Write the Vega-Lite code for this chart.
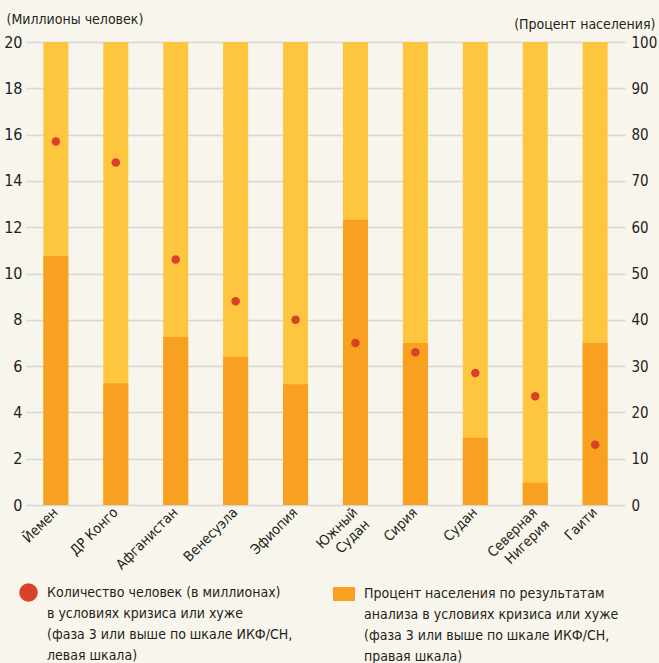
{
  "$schema": "https://vega.github.io/schema/vega-lite/v6.json",
  "width": 599,
  "height": 463,
  "autosize": "none",
  "padding": {"left": 26, "top": 42, "right": 34, "bottom": 158},
  "background": "#F8F5EC",
  "config": {
    "view": {"stroke": null},
    "font": "Liberation Sans Narrow, DejaVu Sans Condensed, Roboto, sans-serif",
    "axis": {"labelColor": "#231F20", "titleColor": "#231F20", "titleFontWeight": "normal"},
    "legend": {"labelColor": "#231F20"}
  },
  "data": {
    "values": [
      {"country": "Йемен", "millions": 15.7, "percent": 53.8},
      {"country": "ДР Конго", "millions": 14.8, "percent": 26.3},
      {"country": "Афганистан", "millions": 10.6, "percent": 36.3},
      {"country": "Венесуэла", "millions": 8.8, "percent": 32.0},
      {"country": "Эфиопия", "millions": 8.0, "percent": 26.1},
      {"country": "Южный|Судан", "millions": 7.0, "percent": 61.6},
      {"country": "Сирия", "millions": 6.6, "percent": 35.0},
      {"country": "Судан", "millions": 5.7, "percent": 14.5},
      {"country": "Северная|Нигерия", "millions": 4.7, "percent": 4.8},
      {"country": "Гаити", "millions": 2.6, "percent": 35.0}
    ]
  },
  "encoding": {
    "x": {
      "field": "country",
      "type": "nominal",
      "sort": null,
      "scale": {"paddingInner": 0.583, "paddingOuter": 0.29},
      "axis": {
        "title": null,
        "domain": false,
        "ticks": false,
        "labelAngle": -45,
        "labelAlign": "right",
        "labelBaseline": "middle",
        "labelFontSize": 14,
        "labelPadding": 5,
        "labelLineHeight": 17,
        "labelExpr": "split(datum.label, '|')"
      }
    }
  },
  "layer": [
    {
      "layer": [
        {
          "mark": {"type": "bar", "color": "#FEC53F"},
          "encoding": {
            "y": {
              "datum": 100,
              "type": "quantitative",
              "scale": {"domain": [0, 100]},
              "axis": {
                "orient": "right",
                "grid": false,
                "domain": false,
                "ticks": false,
                "values": [0, 10, 20, 30, 40, 50, 60, 70, 80, 90, 100],
                "labelFontSize": 15,
                "labelPadding": 6,
                "title": "(Процент населения)",
                "titleAngle": 0,
                "titleAlign": "right",
                "titleBaseline": "alphabetic",
                "titleFontSize": 14,
                "titleX": 30,
                "titleY": -14
              }
            }
          }
        },
        {
          "mark": {"type": "bar"},
          "encoding": {
            "y": {"field": "percent", "type": "quantitative"},
            "color": {
              "datum": "Процент населения по результатам|анализа в условиях кризиса или хуже|(фаза 3 или выше по шкале ИКФ/СН,|правая шкала)",
              "type": "nominal",
              "scale": {"range": ["#F8A01F"]},
              "legend": {
                "title": null,
                "orient": "none",
                "legendX": 307,
                "legendY": 541,
                "padding": 0,
                "symbolType": "M-1,-0.64H1V0.64H-1Z",
                "symbolSize": 484,
                "symbolStrokeWidth": 0,
                "symbolOpacity": 1,
                "labelFontSize": 14,
                "labelLimit": 400,
                "labelOffset": 9,
                "labelExpr": "split(datum.label, '|')",
                "encode": {"labels": {"update": {"lineHeight": {"value": 21}}}}
              }
            }
          }
        }
      ]
    },
    {
      "mark": {"type": "circle", "size": 72, "opacity": 1},
      "encoding": {
        "y": {
          "field": "millions",
          "type": "quantitative",
          "scale": {"domain": [0, 20]},
          "axis": {
            "orient": "left",
            "grid": true,
            "gridColor": "#D6D6D6",
            "gridWidth": 1.6,
            "domain": false,
            "ticks": false,
            "values": [0, 2, 4, 6, 8, 10, 12, 14, 16, 18, 20],
            "labelFontSize": 16,
            "labelPadding": 4,
            "title": "(Миллионы человек)",
            "titleAngle": 0,
            "titleAlign": "left",
            "titleBaseline": "alphabetic",
            "titleFontSize": 14,
            "titleX": -20,
            "titleY": -19
          }
        },
        "fill": {
          "datum": "Количество человек (в миллионах)|в условиях кризиса или хуже|(фаза 3 или выше по шкале ИКФ/СН,|левая шкала)",
          "type": "nominal",
          "scale": {"range": ["#D9412B"]},
          "legend": {
            "title": null,
            "orient": "none",
            "legendX": -7,
            "legendY": 541,
            "padding": 0,
            "symbolType": "circle",
            "symbolSize": 346,
            "symbolStrokeWidth": 0,
            "symbolOpacity": 1,
            "labelFontSize": 14,
            "labelLimit": 400,
            "labelOffset": 9,
            "labelExpr": "split(datum.label, '|')",
            "encode": {"labels": {"update": {"lineHeight": {"value": 21}}}}
          }
        }
      }
    }
  ],
  "resolve": {"scale": {"y": "independent", "color": "independent", "fill": "independent"}}
}
